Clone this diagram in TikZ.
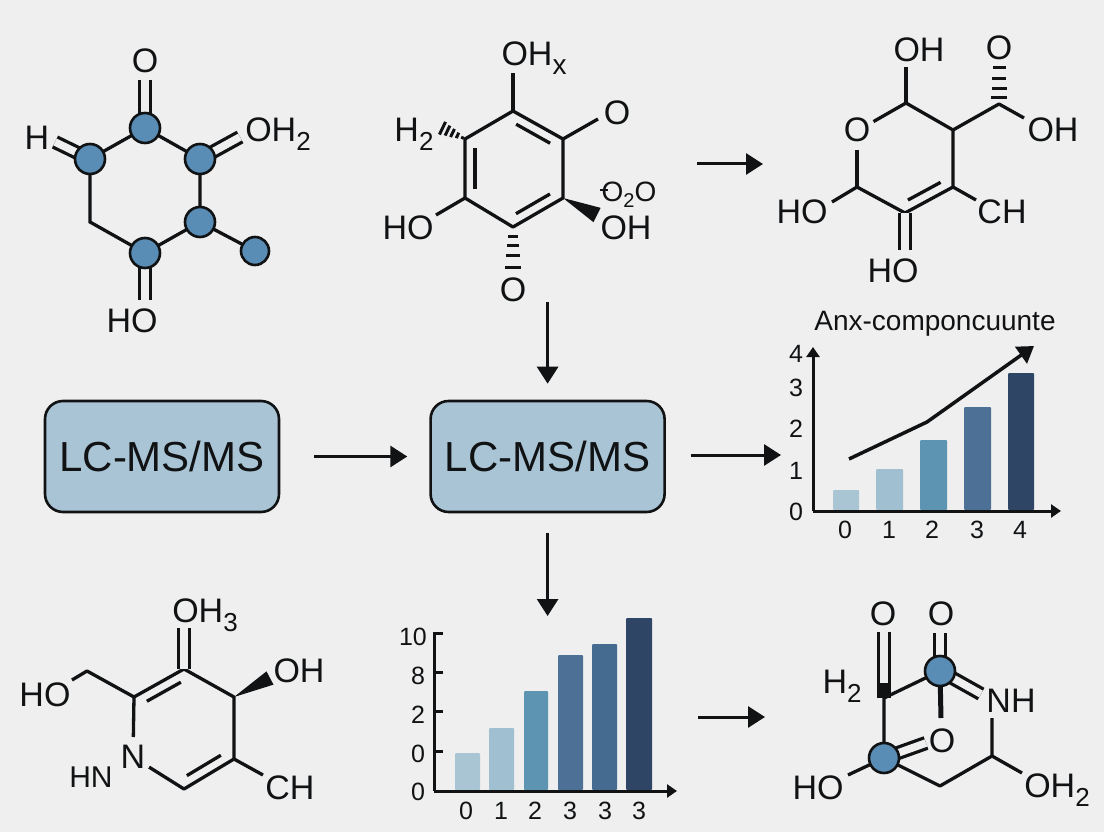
\documentclass[tikz,border=0pt]{standalone}
\usepackage{fontspec}
\setmainfont{Liberation Sans}
\usetikzlibrary{calc}
\usetikzlibrary{positioning}
\usetikzlibrary{arrows.meta}

\definecolor{bgc}{HTML}{EFEFEF}
\definecolor{inkc}{HTML}{101214}
\definecolor{boxc}{HTML}{A9C4D4}
\definecolor{atomc}{HTML}{5A8DB5}
\definecolor{barone}{HTML}{A9C4D3}
\definecolor{bartwo}{HTML}{A0BFD0}
\definecolor{barthree}{HTML}{5D94B1}
\definecolor{barfour}{HTML}{4D7196}
\definecolor{barfive}{HTML}{466B90}
\definecolor{barsix}{HTML}{2E4565}

\newcommand{\lowidx}[1]{\raisebox{-9pt}{\fontsize{26}{26}\selectfont #1}}
\newcommand{\innerbond}[2]{\draw[bond] ($(#1)!.16!(#2)!10pt!-90:(#2)$) -- ($(#2)!.16!(#1)!10pt!90:(#1)$);}
\newcommand{\wedgebond}[3]{\fill[inkc] (#1) -- ($(#2)!#3!90:(#1)$) -- ($(#2)!#3!-90:(#1)$) -- cycle;}
\newcommand{\hashbond}[3]{\foreach \p/\w in {#3} {\draw[inkc, line width=3pt] ($(#1)!\p!(#2)!\w!90:(#2)$) -- ($(#1)!\p!(#2)!\w!-90:(#2)$);}}

\tikzset{
    bond/.style={draw=inkc, line width=3.3pt},
    dblbond/.style={bond, double=bgc, double distance=7.6pt},
    atom/.style={circle, draw=inkc, fill=atomc, line width=2.6pt, minimum size=30pt, inner sep=0pt},
    molbl/.style={text=inkc, font=\fontsize{34}{36}\selectfont, anchor=base, inner sep=0pt},
    msbox/.style={draw=inkc, fill=boxc, line width=2.6pt, rounded corners=18pt, minimum width=234pt, minimum height=111pt, text=inkc, font=\fontsize{42}{46}\selectfont},
    flow/.style={draw=inkc, line width=3pt, -{Triangle[length=17pt,width=21pt]}},
    axis/.style={draw=inkc, line width=3pt},
    axtip/.style={axis, -{Triangle[length=10pt,width=13pt]}},
    tick/.style={text=inkc, font=\fontsize{25}{26}\selectfont, inner sep=0pt},
    bar/.style={rounded corners=1pt}
}

\begin{document}
\begin{tikzpicture}[x=1pt, y=-1pt]
    \useasboundingbox (0,0) rectangle (1104,832);
    \fill[bgc] (0,0) rectangle (1104,832);

    % molecule, top left
    \coordinate (a1) at (145,128);
    \coordinate (a2) at (200,159);
    \coordinate (a3) at (200,222);
    \coordinate (a4) at (145,253);
    \coordinate (a5) at (90,222);
    \coordinate (a6) at (90,159);
    \coordinate (a7) at (255,251);
    \coordinate (a8) at (145,80);
    \coordinate (a9) at (240,137);
    \coordinate (a10) at (145,300);
    \coordinate (a11) at (55,142);
    \draw[bond] (a1) -- (a2) -- (a3) -- (a4) -- (a5) -- (a6) -- cycle;
    \draw[bond] (a3) -- (a7);
    \draw[dblbond] (a1) -- (a8);
    \draw[dblbond] (a2) -- (a9);
    \draw[dblbond] (a4) -- (a10);
    \draw[dblbond] (a6) -- (a11);
    \node[atom] (at1) at (a1) {};
    \node[atom] (at2) at (a2) {};
    \node[atom] (at3) at (a3) {};
    \node[atom] (at4) at (a4) {};
    \node[atom] (at6) at (a6) {};
    \node[atom, minimum size=28pt] (at7) at (a7) {};
    \node[molbl] (la1) at (145,73) {O};
    \node[molbl] (la2) at (37,150) {H};
    \node[molbl] (la3) at (278,142) {OH\lowidx{2}};
    \node[molbl] (la4) at (132,332) {HO};

    % molecule, top middle
    \coordinate (b1) at (513,111);
    \coordinate (b2) at (563,139);
    \coordinate (b3) at (563,198);
    \coordinate (b4) at (513,227);
    \coordinate (b5) at (465,198);
    \coordinate (b6) at (465,139);
    \coordinate (b7) at (513,73);
    \coordinate (b8) at (598,119);
    \coordinate (b9) at (436,215);
    \coordinate (b10) at (597,215);
    \coordinate (b11) at (513,272);
    \coordinate (b12) at (440,127);
    \draw[bond, line join=round] (b1) -- (b2) -- (b3) -- (b4) -- (b5) -- (b6) -- cycle;
    \innerbond{b1}{b2}
    \innerbond{b3}{b4}
    \innerbond{b5}{b6}
    \draw[bond] (b1) -- (b7);
    \draw[bond] (b2) -- (b8);
    \draw[bond] (b5) -- (b9);
    \wedgebond{b3}{b10}{8pt}
    \hashbond{b4}{b11}{.22/5pt,.42/6pt,.64/7pt,.91/8pt}
    \hashbond{b6}{b12}{.1/1.5pt,.3/3pt,.5/4.5pt,.7/5.5pt,.9/7pt}
    \node[molbl] (lb1) at (534,66) {OH\raisebox{-9pt}{\fontsize{28}{28}\selectfont x}};
    \node[molbl] (lb2) at (617,125) {O};
    \node[molbl] (lb3) at (414,142) {H\lowidx{2}};
    \node[molbl] (lb4) at (408,240) {HO};
    \node[molbl] (lb5) at (626,240) {OH};
    \node[molbl, font=\fontsize{28}{30}\selectfont] (lb6) at (629,201) {O\raisebox{-6pt}{\fontsize{20}{20}\selectfont 2}O};
    \node[molbl] (lb7) at (513,301) {O};
    \draw[inkc, line width=2pt] (600,190) -- (608,190);

    % molecule, top right
    \coordinate (c1) at (857,131);
    \coordinate (c2) at (906,103);
    \coordinate (c3) at (953,130);
    \coordinate (c4) at (953,187);
    \coordinate (c5) at (905,213);
    \coordinate (c6) at (857,187);
    \coordinate (c7) at (999,104);
    \coordinate (c8) at (906,67);
    \coordinate (c9) at (999,66);
    \coordinate (c10) at (1024,118);
    \coordinate (c11) at (832,202);
    \coordinate (c12) at (976,200);
    \coordinate (c13) at (905,250);
    \draw[bond, shorten <=19pt] (c1) -- (c2);
    \draw[bond, line join=round] (c2) -- (c3) -- (c4) -- (c5) -- (c6);
    \draw[bond, shorten >=19pt] (c6) -- (c1);
    \innerbond{c4}{c5}
    \draw[bond] (c2) -- (c8);
    \draw[bond, line join=round] (c3) -- (c7) -- (c10);
    \hashbond{c7}{c9}{.16/8pt,.42/7.5pt,.68/7pt,.95/6.5pt}
    \draw[bond] (c6) -- (c11);
    \draw[bond] (c4) -- (c12);
    \draw[dblbond] (c5) -- (c13);
    \node[molbl] (lc1) at (857,142) {O};
    \node[molbl] (lc2) at (919,62) {OH};
    \node[molbl] (lc3) at (999,60) {O};
    \node[molbl] (lc4) at (1053,142) {OH};
    \node[molbl] (lc5) at (802,224) {HO};
    \node[molbl] (lc6) at (1002,224) {CH};
    \node[molbl] (lc7) at (893,282) {HO};

    % the two boxes and the arrows
    \node[msbox] (lcleft) at (162,456.5) {LC-MS/MS};
    \node[msbox, right=149pt of lcleft] (lcmid) {LC-MS/MS};
    \coordinate (tipa) at (763,164);
    \coordinate (taila) at (697,164);
    \coordinate (tailb) at (547,302);
    \coordinate (tipc) at (781,455);
    \coordinate (tipd) at (547,616);
    \coordinate (taile) at (698,717);
    \coordinate (tipe) at (765,717);
    \draw[flow] (taila) -- (tipa);
    \draw[flow, shorten >=16pt] (lcmid.north |- tailb) -- (lcmid.north);
    \draw[flow, shorten <=34pt, shorten >=22pt] (lcleft.east) -- (lcmid.west);
    \draw[flow, shorten <=25pt] (lcmid.east |- tipc) -- (tipc);
    \draw[flow, shorten <=20pt] (lcmid.south) -- (lcmid.south |- tipd);
    \draw[flow] (taile) -- (tipe);

    % chart, right
    \fill[barone, bar] (833,490) rectangle (859,510);
    \fill[bartwo, bar] (876,469) rectangle (903,510);
    \fill[barthree, bar] (920,440) rectangle (947,510);
    \fill[barfour, bar] (964,407) rectangle (991,510);
    \fill[barsix, bar] (1008,373) rectangle (1034,510);
    \coordinate (ra) at (813,511);
    \coordinate (rb) at (813,347);
    \coordinate (rc) at (1061,511);
    \draw[axtip] (ra) -- (rb);
    \draw[axtip] (ra) -- (rc);
    \coordinate (ta) at (849,459);
    \coordinate (tb) at (927,422);
    \coordinate (tc) at (1034,346);
    \draw[draw=inkc, line width=3.5pt, -{Triangle[length=16pt,width=20pt]}] (ta) -- (tb) -- (tc);
    \node[text=inkc, font=\fontsize{28}{30}\selectfont, inner sep=0pt] (rtitle) at (935,324) {Anx-componcuunte};
    \node[tick] (ry4) at (796,354) {4};
    \node[tick] (ry3) at (796,388) {3};
    \node[tick] (ry2) at (796,429) {2};
    \node[tick] (ry1) at (796,471) {1};
    \node[tick] (ry0) at (796,512) {0};
    \node[tick] (rx0) at (845,530) {0};
    \node[tick] (rx1) at (889,530) {1};
    \node[tick] (rx2) at (932,530) {2};
    \node[tick] (rx3) at (977,530) {3};
    \node[tick] (rx4) at (1020,530) {4};

    % molecule, bottom left
    \coordinate (d1) at (134,697);
    \coordinate (d2) at (184,669);
    \coordinate (d3) at (234,697);
    \coordinate (d4) at (234,759);
    \coordinate (d5) at (184,789);
    \coordinate (d6) at (133,757);
    \coordinate (d7) at (87,671);
    \coordinate (d8) at (72,680);
    \coordinate (d9) at (184,628);
    \coordinate (d10) at (270,678);
    \coordinate (d11) at (263,775);
    \draw[bond, shorten <=19pt, line join=round] (d6) -- (d5) -- (d4) -- (d3) -- (d2) -- (d1);
    \draw[bond, shorten >=20pt] (d1) -- (d6);
    \innerbond{d1}{d2}
    \innerbond{d4}{d5}
    \draw[bond, line join=round] (d1) -- (d7) -- (d8);
    \draw[dblbond] (d2) -- (d9);
    \wedgebond{d3}{d10}{7.5pt}
    \draw[bond] (d4) -- (d11);
    \node[molbl] (ld1) at (205,622) {OH\lowidx{3}};
    \node[molbl] (ld2) at (45,706) {HO};
    \node[molbl] (ld3) at (299,682) {OH};
    \node[molbl] (ld4) at (133,768) {N};
    \node[molbl, font=\fontsize{30}{32}\selectfont] (ld5) at (91,787) {HN};
    \node[molbl] (ld6) at (290,799) {CH};

    % chart, bottom
    \fill[barone, bar] (455,753) rectangle (480,790);
    \fill[bartwo, bar] (489,728) rectangle (514,790);
    \fill[barthree, bar] (524,691) rectangle (548,790);
    \fill[barfour, bar] (558,655) rectangle (583,790);
    \fill[barfive, bar] (592,644) rectangle (617,790);
    \fill[barsix, bar] (626,618) rectangle (652,790);
    \coordinate (sa) at (434,791);
    \coordinate (sb) at (434,633);
    \coordinate (sc) at (677,791);
    \coordinate (s1) at (443,633);
    \coordinate (s2) at (443,672);
    \coordinate (s3) at (443,711);
    \coordinate (s4) at (443,751);
    \draw[axtip] (sa) -- (sc);
    \draw[axis] (sa) -- (sb) -- (s1);
    \draw[axis] (s2) -- (s2 -| sa);
    \draw[axis] (s3) -- (s3 -| sa);
    \draw[axis] (s4) -- (s4 -| sa);
    \node[tick] (sy1) at (413,637) {10};
    \node[tick] (sy2) at (418,676) {8};
    \node[tick] (sy3) at (418,715) {2};
    \node[tick] (sy4) at (418,754) {0};
    \node[tick] (sy5) at (418,792) {0};
    \node[tick] (sx1) at (466,811) {0};
    \node[tick] (sx2) at (501,811) {1};
    \node[tick] (sx3) at (535,811) {2};
    \node[tick] (sx4) at (570,811) {3};
    \node[tick] (sx5) at (605,811) {3};
    \node[tick] (sx6) at (639,811) {3};

    % molecule, bottom right
    \coordinate (e1) at (884,698);
    \coordinate (e2) at (940,671);
    \coordinate (e3) at (884,758);
    \coordinate (e4) at (940,786);
    \coordinate (e5) at (992,756);
    \coordinate (e6) at (992,718);
    \coordinate (e7) at (884,632);
    \coordinate (e8) at (884,683);
    \coordinate (e9) at (940,633);
    \coordinate (e10) at (941,718);
    \coordinate (e11) at (981,694);
    \coordinate (e12) at (926,743);
    \coordinate (e13) at (848,775);
    \coordinate (e14) at (1022,773);
    \draw[dblbond] (e1) -- (e7);
    \draw[inkc, line width=10pt] (e1) -- (e8);
    \draw[bond] (e2) -- (e1) -- (e3);
    \draw[bond, line join=round] (e3) -- (e4) -- (e5) -- (e6);
    \draw[dblbond] (e2) -- (e9);
    \draw[draw=inkc, line width=5pt] (e2) -- (e10);
    \draw[dblbond] (e2) -- (e11);
    \draw[dblbond] (e3) -- (e12);
    \draw[bond] (e3) -- (e13);
    \draw[bond] (e5) -- (e14);
    \node[atom] (et2) at (e2) {};
    \node[atom] (et3) at (e3) {};
    \node[molbl] (le1) at (883,625) {O};
    \node[molbl] (le2) at (941,625) {O};
    \node[molbl] (le3) at (842,693) {H\lowidx{2}};
    \node[molbl] (le4) at (1011,712) {NH};
    \node[molbl] (le5) at (942,752) {O};
    \node[molbl] (le6) at (818,799) {HO};
    \node[molbl] (le7) at (1057,797) {OH\lowidx{2}};

\end{tikzpicture}
\end{document}
